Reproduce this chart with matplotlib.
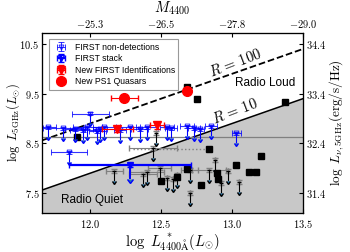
import numpy as np
import matplotlib.pyplot as plt

plt.rcParams['mathtext.fontset'] = 'cm'
plt.rcParams['font.family'] = ['Liberation Sans', 'DejaVu Sans']

# ---- data (log L4400 in Lsun, log L5GHz in Lsun) ----

# FIRST non-detections (upper limits)
nd_x = [12.00, 11.85, 11.70, 11.81, 11.89, 11.98, 12.05, 12.10, 12.21, 12.28,
        12.35, 12.40, 12.54, 12.57, 12.68, 12.73, 12.77, 12.85, 13.03, 12.07, 11.95]
nd_y = [9.10, 8.32, 8.82, 8.80, 8.78, 8.82, 8.74, 8.82, 8.76, 8.82,
        8.78, 8.82, 8.82, 8.80, 8.84, 8.80, 8.78, 8.84, 8.70, 8.78, 8.76]
nd_xerr = [0.13, 0.13, 0.06, 0.14, 0.07, 0.10, 0.06, 0.08, 0.04, 0.07,
           0.06, 0.08, 0.05, 0.04, 0.05, 0.04, 0.03, 0.04, 0.03, 0.05, 0.09]

# FIRST stack
st_x = [12.28]
st_y = [8.06]
st_xerr = [0.43]

# New FIRST identifications
fi_x = [12.19, 12.47]
fi_y = [8.78, 8.86]
fi_xerr = [0.11, 0.05]
fi_yerr = [0.05, 0.07]

# New PS1 quasars
ps_x = [12.24, 12.68]
ps_y = [9.42, 9.56]
ps_xerr = [0.095, 0.02]

# literature radio detections
det_x = [12.68, 12.75, 13.37, 11.91, 12.84, 13.20, 13.03, 12.89, 13.12, 13.17,
         12.78, 12.68, 12.61, 12.50, 12.90]
det_y = [9.64, 9.40, 9.34, 8.62, 8.38, 8.24, 8.06, 7.90, 7.92, 7.92,
         7.66, 7.98, 7.82, 7.74, 7.78]

# literature upper limits
ul_x = [12.46, 12.44, 12.17, 12.37, 12.54, 12.58, 12.70, 12.88, 12.84, 12.97,
        12.92, 13.05, 12.61, 12.49, 12.70, 12.40]
ul_y = [8.70, 8.40, 7.94, 7.88, 7.80, 7.78, 7.50, 8.16, 7.96, 7.94,
        7.70, 7.72, 7.86, 8.00, 7.96, 7.92]
ul_xerr = [0.0, 0.17, 0.06, 0.10, 0.0, 0.0, 0.0, 0.0, 0.12, 0.0,
           0.0, 0.0, 0.0, 0.08, 0.06, 0.12]

# radio-loudness lines, log L5 = log L4400 + offset
r100_off = -3.1
r10_off = -4.1
xlim = (11.66, 13.5)
ylim = (7.1, 10.72)
lum_offset = 23.9   # Lsun -> erg/s/Hz

xt = [12.0, 12.5, 13.0, 13.5]
m_labels = ['-25.3', '-26.5', '-27.8', '-29.0']
yt = [7.5, 8.5, 9.5, 10.5]
yt2 = [31.4, 32.4, 33.4, 34.4]

fig = plt.figure(figsize=(3.5, 2.52), dpi=100)
ax = fig.add_axes([0.12, 0.155, 0.746, 0.714])

xl = np.array(xlim)
ax.fill_between(xl, ylim[0], xl + r10_off, color='#c8c8c8', zorder=0)
ax.plot(xl, xl + r10_off, 'k-', lw=1.1, zorder=1)
ax.plot(xl, xl + r100_off, 'k--', lw=1.3, zorder=1)
ax.axhline(8.62, color='gray', lw=0.9, zorder=1)
ax.plot([12.3, 12.84], [8.38, 8.38], ':', color='gray', lw=1.0, zorder=1)

# literature upper limits
ax.errorbar(ul_x, ul_y, xerr=ul_xerr, yerr=0.04, fmt='none', ecolor='gray',
            elinewidth=0.8, capsize=2, zorder=2)
ax.errorbar(ul_x, ul_y, yerr=0.2, uplims=True, fmt='none', ecolor='k',
            elinewidth=0.8, capsize=1.5, zorder=2)
ax.plot(det_x, det_y, 's', color='k', ms=5, zorder=3)

# FIRST non-detections
ax.errorbar(nd_x, nd_y, yerr=0.2, uplims=True, fmt='none', ecolor='b',
            elinewidth=0.8, capsize=1.5, zorder=4)
nd = ax.errorbar(nd_x, nd_y, xerr=nd_xerr, yerr=0.03, fmt='v', color='b',
                 mfc='none', ms=3.5, elinewidth=0.8, capsize=2, mew=0.7,
                 zorder=4, label='FIRST non-detections', alpha=0.8)
ax.errorbar(st_x, st_y, yerr=0.28, uplims=True, fmt='none', ecolor='b',
            elinewidth=1.4, capsize=2, zorder=4)
st = ax.errorbar(st_x, st_y, xerr=st_xerr, yerr=0.04, fmt='v', color='b',
                 mfc='none', ms=4, elinewidth=1.6, capsize=2, mew=1.0,
                 zorder=4, label='FIRST stack')

fi = ax.errorbar(fi_x, fi_y, xerr=fi_xerr, yerr=fi_yerr, fmt='v', color='r',
                 ms=6, elinewidth=0.8, capsize=2, zorder=5,
                 label='New FIRST Identifications')
ps = ax.errorbar(ps_x, ps_y, xerr=ps_xerr, fmt='o', color='r', ms=7,
                 elinewidth=0.8, capsize=2, zorder=6, label='New PS1 Quasars')

ax.text(13.02, 10.12, r'$R\,=\,100$', fontsize=10.5, rotation=21,
        ha='center', va='center')
ax.text(13.02, 9.14, r'$R\,=\,10$', fontsize=10.5, rotation=21,
        ha='center', va='center')
ax.text(13.23, 9.72, 'Radio Loud', fontsize=8.5, ha='center', va='center')
ax.text(12.01, 7.36, 'Radio Quiet', fontsize=8.5, ha='center', va='center')

ax.set_xlim(xlim)
ax.set_ylim(ylim)
ax.set_xticks(xt)
ax.set_xticklabels(['$%.1f$' % v for v in xt])
ax.set_yticks(yt)
ax.set_yticklabels(['$%.1f$' % v for v in yt])
ax.tick_params(direction='in', labelsize=7.5, length=3)
ax.tick_params(axis='y', pad=2)
ax.set_xlabel(r'$\log\ L_{4400\mathrm{\AA}}^{\ *}(L_{\odot})$', fontsize=10.5,
              labelpad=1)
ax.set_ylabel(r'$\log\ L_{5\mathrm{GHz}}(L_{\odot})$', fontsize=9)
ax.yaxis.set_label_coords(-0.078, 0.5)

ax2 = ax.twinx()
ax2.set_ylim(ylim[0] + lum_offset, ylim[1] + lum_offset)
ax2.set_yticks(yt2)
ax2.set_yticklabels(['$%.1f$' % v for v in yt2])
ax2.tick_params(direction='in', labelsize=7.5, length=3, pad=2)
ax2.set_ylabel(r'$\log\ L_{\nu,5\mathrm{GHz}}(\mathrm{erg/s/Hz})$', fontsize=9.5,
               labelpad=1)

ax3 = ax.twiny()
ax3.set_xlim(xlim)
ax3.set_xticks(xt)
ax3.set_xticklabels(['$%s$' % s for s in m_labels])
ax3.tick_params(direction='in', labelsize=7.5, length=3, pad=2)
ax3.set_xlabel(r'$M_{4400}$', fontsize=10.5, labelpad=4)

leg = ax.legend(handles=[nd, st, fi, ps], loc='upper left', fontsize=6.2,
                frameon=True, fancybox=False, edgecolor='gray',
                borderpad=0.4, labelspacing=0.3, handletextpad=0.6,
                bbox_to_anchor=(0.01, 0.99))
leg.get_frame().set_linewidth(0.8)

fig.savefig('out.png', dpi=100)
